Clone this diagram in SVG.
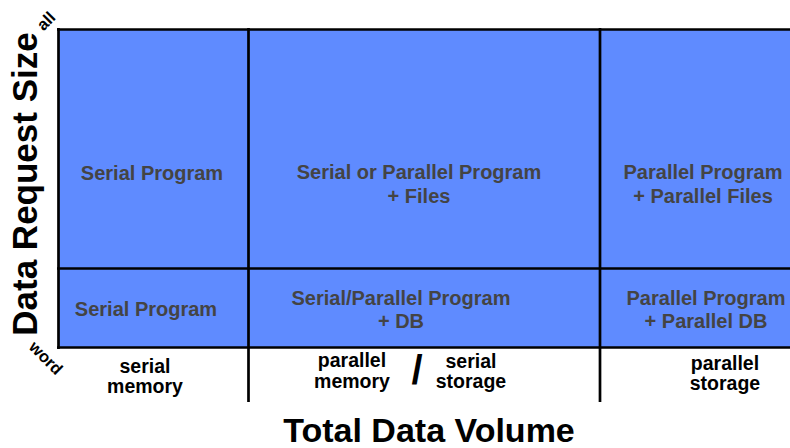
<svg xmlns="http://www.w3.org/2000/svg" width="790" height="448" viewBox="0 0 790 448">
  <style>
    .cell { fill: #5f8bff; stroke: none; }
    .grid { stroke: #000; stroke-width: 2.7; fill: none; }
    .lbl { font-family: "Liberation Sans", Arial, sans-serif; font-weight: bold; font-size: 20px; fill: #444; text-anchor: middle; }
    .axis { font-family: "Liberation Sans", Arial, sans-serif; font-weight: bold; font-size: 19.5px; fill: #000; text-anchor: middle; }
    .title { font-family: "Liberation Sans", Arial, sans-serif; font-weight: bold; font-size: 34px; fill: #000; text-anchor: middle; }
    .tick { font-family: "Liberation Sans", Arial, sans-serif; font-weight: bold; font-size: 16.5px; fill: #000; text-anchor: middle; }
  </style>

  <!-- top row: large requests -->
  <g id="cell-serial-large">
    <rect class="cell" x="58.5" y="29.5" width="190" height="239"/>
    <text class="lbl" x="152" y="180">Serial Program</text>
  </g>
  <g id="cell-mixed-large">
    <rect class="cell" x="248.5" y="29.5" width="351.5" height="239"/>
    <text class="lbl" x="419" y="179">Serial or Parallel Program</text>
    <text class="lbl" x="419" y="202.5">+ Files</text>
  </g>
  <g id="cell-parallel-large">
    <rect class="cell" x="600" y="29.5" width="190" height="239"/>
    <text class="lbl" x="703" y="179">Parallel Program</text>
    <text class="lbl" x="703" y="202.5">+ Parallel Files</text>
  </g>

  <!-- bottom row: word-sized requests -->
  <g id="cell-serial-small">
    <rect class="cell" x="58.5" y="268.5" width="190" height="79"/>
    <text class="lbl" x="146" y="316">Serial Program</text>
  </g>
  <g id="cell-mixed-small">
    <rect class="cell" x="248.5" y="268.5" width="351.5" height="79"/>
    <text class="lbl" x="401" y="305">Serial/Parallel Program</text>
    <text class="lbl" x="401" y="328">+ DB</text>
  </g>
  <g id="cell-parallel-small">
    <rect class="cell" x="600" y="268.5" width="190" height="79"/>
    <text class="lbl" x="706" y="305">Parallel Program</text>
    <text class="lbl" x="706" y="328">+ Parallel DB</text>
  </g>

  <!-- grid lines -->
  <g id="connectors">
    <line class="grid" x1="57" y1="29.5" x2="790" y2="29.5"/>
    <line class="grid" x1="57" y1="268.5" x2="790" y2="268.5"/>
    <line class="grid" x1="57" y1="347.5" x2="790" y2="347.5"/>
    <line class="grid" x1="58.5" y1="28" x2="58.5" y2="349"/>
    <line class="grid" x1="248.5" y1="28" x2="248.5" y2="402"/>
    <line class="grid" x1="600" y1="28" x2="600" y2="402"/>
  </g>

  <!-- horizontal axis categories -->
  <g id="axis-serial-memory">
    <text class="axis" x="145" y="373">serial</text>
    <text class="axis" x="145" y="393">memory</text>
  </g>
  <g id="axis-parallel-memory">
    <text class="axis" x="352" y="367">parallel</text>
    <text class="axis" x="352" y="388">memory</text>
  </g>
  <text class="axis" x="417" y="384" style="font-size:40px">/</text>
  <g id="axis-serial-storage">
    <text class="axis" x="471" y="368">serial</text>
    <text class="axis" x="471" y="388">storage</text>
  </g>
  <g id="axis-parallel-storage">
    <text class="axis" x="725" y="370">parallel</text>
    <text class="axis" x="725" y="390">storage</text>
  </g>

  <!-- axis titles -->
  <text class="title" x="429" y="442">Total Data Volume</text>
  <text class="title" transform="translate(37,184) rotate(-90)" style="font-size:35px">Data Request Size</text>
  <text class="tick" transform="translate(50,25) rotate(-45)">all</text>
  <text class="tick" transform="translate(42,362) rotate(45)">word</text>
</svg>
